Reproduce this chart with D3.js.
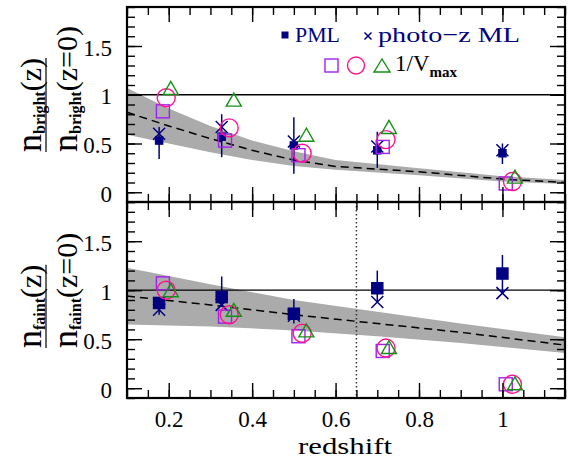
<!DOCTYPE html>
<meta charset="utf-8">
<style>
body { margin: 0; background: #fff; }
svg { display: block; font-family: "Liberation Serif", "DejaVu Serif", serif; }
.frame { fill: none; stroke: #000; stroke-width: 2.2; }
.tick line { stroke: #000; stroke-width: 1.4; }
.unity { stroke: #000; stroke-width: 1.3; }
.model { fill: none; stroke: #000; stroke-width: 1.5; stroke-dasharray: 8,5; }
.cut { stroke: #333; stroke-width: 1.5; stroke-dasharray: 1.5,2.5; }
.err { stroke: #000080; stroke-width: 1.5; }
.pz { stroke: #000080; stroke-width: 1.5; fill: none; }
.pml { fill: #000080; }
.vsq { fill: none; stroke: #a020f0; stroke-width: 1.4; }
.vci { fill: none; stroke: #ff1493; stroke-width: 1.4; }
.vtr { fill: none; stroke: #159015; stroke-width: 1.4; }
.ticklab text { font-family: "Liberation Serif", serif; font-size: 23px; fill: #000; }
</style>
<svg width="571" height="459"></svg>
<script src="https://d3js.org/d3.v7.min.js"></script>
<script>

// redshift bins (PML and photo-z ML), 1/Vmax points are offset a bit in z
var zBins     = [0.177, 0.327, 0.5, 0.7, 1.0];
var zSquare   = [0.186, 0.335, 0.511, 0.713, 1.008];
var zCircle   = [0.194, 0.345, 0.52, 0.721, 1.024];
var zTriangle = [0.205, 0.356, 0.53, 0.728, 1.03];

// bright sample
var brightPML      = [0.53, 0.57, 0.48, 0.43, 0.40];
var brightPhotoZ   = [0.60, 0.67, 0.52, 0.47, 0.43];
var brightErrLo    = [0.34, 0.36, 0.19, 0.25, 0.29];
var brightErrHi    = [0.67, 0.80, 0.77, 0.62, 0.50];
var brightSquare   = [0.83, 0.53, 0.38, 0.465, 0.09];
var brightCircle   = [0.97, 0.66, 0.40, 0.54, 0.11];
var brightTriangle = [1.07, 0.95, 0.59, 0.67, 0.16];

// faint sample
var faintPML      = [0.87, 0.93, 0.76, 1.02, 1.17];
var faintPhotoZ   = [0.80, 0.85, 0.74, 0.88, 0.97];
var faintErrLo    = [0.75, 0.83, 0.66, 0.88, 0.97];
var faintErrHi    = [0.90, 1.14, 0.91, 1.20, 1.36];
var faintSquare   = [1.07, 0.73, 0.53, 0.38, 0.04];
var faintCircle   = [1.00, 0.75, 0.56, 0.41, 0.04];
var faintTriangle = [1.00, 0.80, 0.59, 0.42, 0.05];

// model (dashed) and its grey band
var bandZBright   = [0.1, 0.2, 0.3, 0.4, 0.5, 0.6, 0.8, 1.0, 1.15];
var bandBrightHi  = [1.07, 0.86, 0.68, 0.53, 0.42, 0.33, 0.245, 0.165, 0.125];
var bandBrightLo  = [0.59, 0.50, 0.41, 0.33, 0.27, 0.23, 0.175, 0.11, 0.085];
var bandBrightMid = [0.82, 0.68, 0.55, 0.43, 0.33, 0.265, 0.21, 0.135, 0.10];

var bandZFaint   = [0.1, 0.3, 0.5, 0.7, 0.9, 1.15];
var bandFaintHi  = [1.23, 1.06, 0.90, 0.78, 0.66, 0.52];
var bandFaintLo  = [0.65, 0.63, 0.59, 0.53, 0.46, 0.36];
var bandFaintMid = [0.94, 0.85, 0.75, 0.66, 0.57, 0.44];

var zCut = 0.65;
var xTicks = [0.2, 0.4, 0.6, 0.8, 1];
var yTicks = [0, 0.5, 1, 1.5];

var svg = d3.select("svg");

var x = d3.scaleLinear().domain([0.1, 1.15]).range([127, 565]);

var panels = [
  { top: 7, bottom: 202, sub: "bright", pmlSize: 8.5,
    pml: brightPML, pz: brightPhotoZ, lo: brightErrLo, hi: brightErrHi,
    sq: brightSquare, ci: brightCircle, tr: brightTriangle,
    bz: bandZBright, bhi: bandBrightHi, blo: bandBrightLo, bmid: bandBrightMid },
  { top: 202, bottom: 398, sub: "faint", pmlSize: 12.5, cut: zCut,
    pml: faintPML, pz: faintPhotoZ, lo: faintErrLo, hi: faintErrHi,
    sq: faintSquare, ci: faintCircle, tr: faintTriangle,
    bz: bandZFaint, bhi: bandFaintHi, blo: bandFaintLo, bmid: bandFaintMid }
];

function tri(cx, cy, w, h) {
  return "M" + cx + "," + (cy - h / 2) + "L" + (cx - w / 2) + "," + (cy + h / 2) +
         "L" + (cx + w / 2) + "," + (cy + h / 2) + "Z";
}
function cross(cx, cy, s) {
  return "M" + (cx - s) + "," + (cy - s) + "L" + (cx + s) + "," + (cy + s) +
         "M" + (cx - s) + "," + (cy + s) + "L" + (cx + s) + "," + (cy - s);
}

panels.forEach(function(p, pi) {
  var y = d3.scaleLinear().domain([-0.1, 1.9]).range([p.bottom, p.top]);
  var g = svg.append("g");

  var band = p.bz.map(function(z, i) { return { z: z, lo: p.blo[i], hi: p.bhi[i], mid: p.bmid[i] }; });
  g.append("path").datum(band)
    .attr("fill", "#ababab")
    .attr("d", d3.area().x(function(d) { return x(d.z); })
      .y0(function(d) { return y(d.lo); }).y1(function(d) { return y(d.hi); }));
  g.append("path").datum(band).attr("class", "model")
    .attr("d", d3.line().x(function(d) { return x(d.z); }).y(function(d) { return y(d.mid); }));

  g.append("line").attr("class", "unity")
    .attr("x1", x.range()[0]).attr("x2", x.range()[1])
    .attr("y1", y(1)).attr("y2", y(1));

  if (p.cut) {
    g.append("line").attr("class", "cut")
      .attr("x1", x(p.cut)).attr("x2", x(p.cut))
      .attr("y1", p.top).attr("y2", p.bottom);
  }

  var pts = zBins.map(function(z, i) {
    return { z: z, pml: p.pml[i], pz: p.pz[i], lo: p.lo[i], hi: p.hi[i] };
  });

  g.selectAll(".err").data(pts).enter().append("line").attr("class", "err")
    .attr("x1", function(d) { return x(d.z); }).attr("x2", function(d) { return x(d.z); })
    .attr("y1", function(d) { return y(d.lo); }).attr("y2", function(d) { return y(d.hi); });

  g.selectAll(".pz").data(pts).enter().append("path").attr("class", "pz")
    .attr("d", function(d) { return cross(x(d.z), y(d.pz), 6); });

  g.selectAll(".pml").data(pts).enter().append("rect").attr("class", "pml")
    .attr("x", function(d) { return x(d.z) - p.pmlSize / 2; })
    .attr("y", function(d) { return y(d.pml) - p.pmlSize / 2; })
    .attr("width", p.pmlSize).attr("height", p.pmlSize);

  g.selectAll(".vsq").data(p.sq).enter().append("rect").attr("class", "vsq")
    .attr("x", function(d, i) { return x(zSquare[i]) - 6.5; })
    .attr("y", function(d) { return y(d) - 6.5; })
    .attr("width", 13).attr("height", 13);

  g.selectAll(".vci").data(p.ci).enter().append("circle").attr("class", "vci")
    .attr("cx", function(d, i) { return x(zCircle[i]); })
    .attr("cy", function(d) { return y(d); })
    .attr("r", 9);

  g.selectAll(".vtr").data(p.tr).enter().append("path").attr("class", "vtr")
    .attr("d", function(d, i) { return tri(x(zTriangle[i]), y(d), 15, 13); });

  // inward ticks on all four sides
  var xMinor = d3.range(0.1, 1.151, 0.05), yMinor = d3.range(-0.1, 1.91, 0.1);
  [[xMinor, 8], [xTicks, 15]].forEach(function(t) {
    g.append("g").attr("transform", "translate(0," + p.bottom + ")")
      .call(d3.axisTop(x).tickValues(t[0]).tickSize(t[1]).tickFormat(""));
    g.append("g").attr("transform", "translate(0," + p.top + ")")
      .call(d3.axisBottom(x).tickValues(t[0]).tickSize(t[1]).tickFormat(""));
  });
  [[yMinor, 8], [yTicks, 15]].forEach(function(t) {
    g.append("g").attr("transform", "translate(" + x.range()[0] + ",0)")
      .call(d3.axisRight(y).tickValues(t[0]).tickSize(t[1]).tickFormat(""));
    g.append("g").attr("transform", "translate(" + x.range()[1] + ",0)")
      .call(d3.axisLeft(y).tickValues(t[0]).tickSize(t[1]).tickFormat(""));
  });
  g.selectAll(".domain").remove();

  // y tick labels
  var yl = g.append("g").attr("class", "ticklab")
    .attr("transform", "translate(" + x.range()[0] + ",0)")
    .call(d3.axisLeft(y).tickValues(yTicks).tickSize(0).tickPadding(15)
      .tickFormat(function(d) { return String(d); }));
  yl.attr("font-family", null).attr("font-size", null);
  yl.select(".domain").remove();
  yl.selectAll("text").attr("dy", "0.4em");

  g.append("rect").attr("class", "frame")
    .attr("x", x.range()[0]).attr("y", p.top)
    .attr("width", x.range()[1] - x.range()[0]).attr("height", p.bottom - p.top);

  // fraction label  n_sub(z) / n_sub(z=0)
  var yStart = p.bottom - 50;
  function frac(bx, tail) {
    var t = svg.append("text")
      .attr("transform", "translate(" + bx + "," + yStart + ") rotate(-90)");
    t.append("tspan").attr("font-size", 36).text("n");
    t.append("tspan").attr("font-size", 16).attr("font-weight", "bold").attr("dy", 4).text(p.sub);
    t.append("tspan").attr("font-size", 30).attr("dy", -4).text(tail);
    return t;
  }
  var num = frac(41, "(z)");
  frac(77, "(z=0)");
  var len = num.node().getComputedTextLength();
  svg.append("line").attr("stroke", "#000").attr("stroke-width", 1.2)
    .attr("x1", 46).attr("x2", 46).attr("y1", yStart).attr("y2", yStart - len);
});

// x tick labels under the lower panel
var xl = svg.append("g").attr("class", "ticklab").attr("transform", "translate(0,398)")
  .call(d3.axisBottom(x).tickValues(xTicks).tickSize(0).tickPadding(13)
    .tickFormat(function(d) { return String(d); }));
xl.attr("font-family", null).attr("font-size", null);
xl.select(".domain").remove();

svg.append("text").attr("x", 345).attr("y", 454).attr("text-anchor", "middle")
  .attr("font-family", "Liberation Serif").attr("font-size", 23)
  .attr("textLength", 94).attr("lengthAdjust", "spacingAndGlyphs")
  .text("redshift");

// legend
var lg = svg.append("g");
lg.append("rect").attr("fill", "#000080").attr("x", 281.5).attr("y", 31.5).attr("width", 7).attr("height", 7);
lg.append("text").attr("x", 295).attr("y", 42).attr("fill", "#000080").attr("font-size", 22)
  .attr("textLength", 45).attr("lengthAdjust", "spacingAndGlyphs").text("PML");
lg.append("path").attr("class", "pz").attr("d", cross(368, 36, 3.5));
lg.append("text").attr("x", 378).attr("y", 42).attr("fill", "#000080").attr("font-size", 22)
  .attr("textLength", 142).attr("lengthAdjust", "spacingAndGlyphs").text("photo\u2212z ML");

lg.append("rect").attr("class", "vsq").attr("x", 325).attr("y", 59).attr("width", 13).attr("height", 13);
lg.append("circle").attr("class", "vci").attr("cx", 356).attr("cy", 65.5).attr("r", 8.5);
lg.append("path").attr("class", "vtr").attr("d", tri(382, 65.5, 16, 13));
var vm = lg.append("text").attr("x", 395).attr("y", 71).attr("font-size", 23);
vm.append("tspan").text("1/V");
vm.append("tspan").attr("font-size", 15).attr("font-weight", "bold").attr("dy", 6).text("max");

</script>
